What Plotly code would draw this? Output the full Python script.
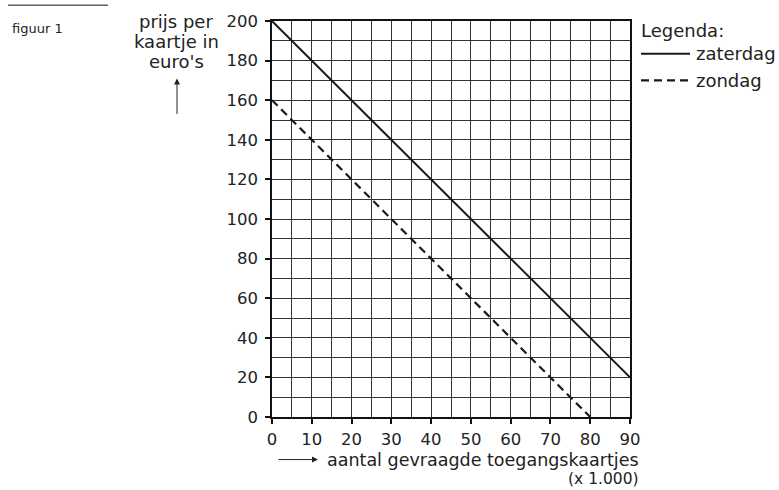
import plotly.graph_objects as go

# Data
x_zaterdag = [0, 90]
y_zaterdag = [200, 20]
x_zondag = [0, 80]
y_zondag = [160, 0]
x_ticks = [0, 10, 20, 30, 40, 50, 60, 70, 80, 90]
y_ticks = [0, 20, 40, 60, 80, 100, 120, 140, 160, 180, 200]

W, H = 779, 490
L, R, T, B = 272, 630, 17, 417
FONT = "DejaVu Sans"
TXT = "#222222"


def px(xp):
    return (xp - L) / (R - L)


def py(yp):
    return (B - yp) / (B - T)


fig = go.Figure()
fig.add_trace(go.Scatter(x=x_zaterdag, y=y_zaterdag, mode="lines", name="zaterdag",
                         line=dict(color="#1a1a1a", width=2), showlegend=False))
fig.add_trace(go.Scatter(x=x_zondag, y=y_zondag, mode="lines", name="zondag",
                         line=dict(color="#1a1a1a", width=2.2, dash="8px,5px"), showlegend=False))

axis_common = dict(showline=True, linecolor="#111", linewidth=1.5, mirror=True,
                   ticks="outside", ticklen=5, tickwidth=1.5, tickcolor="#111",
                   showgrid=True, gridcolor="#333333", gridwidth=1, zeroline=False,
                   tickfont=dict(family=FONT, size=16.5, color=TXT))

fig.update_xaxes(range=[0, 90], tickvals=x_ticks, ticklabelstandoff=1,
                 minor=dict(dtick=5, tick0=0, showgrid=True, gridcolor="#333333", gridwidth=1),
                 **axis_common)
fig.update_yaxes(range=[0, 200], tickvals=y_ticks, ticklabelstandoff=4,
                 minor=dict(dtick=10, tick0=0, showgrid=True, gridcolor="#333333", gridwidth=1),
                 **axis_common)

ann = []
ann.append(dict(text="figuur 1", x=px(10), y=py(25), xanchor="left", yanchor="middle",
                font=dict(family=FONT, size=13, color=TXT)))
for t, yy in [("prijs per", 18), ("kaartje in", 38), ("euro's", 58)]:
    ann.append(dict(text=t, x=px(176), y=py(yy), xanchor="center", yanchor="middle",
                    font=dict(family=FONT, size=18, color=TXT)))
ann.append(dict(text="", x=px(177), y=py(75), ax=0, ay=37, showarrow=True,
                arrowhead=2, arrowsize=1.2, arrowwidth=1, arrowcolor=TXT, standoff=0))
ann.append(dict(text="", x=px(318), y=py(460), ax=-41, ay=0, showarrow=True,
                arrowhead=2, arrowsize=1.2, arrowwidth=1, arrowcolor=TXT, standoff=0))
ann.append(dict(text="aantal gevraagde toegangskaartjes", x=px(641), y=py(460),
                xanchor="right", yanchor="middle", font=dict(family=FONT, size=17.5, color=TXT)))
ann.append(dict(text="(x 1.000)", x=px(641), y=py(480), xanchor="right", yanchor="middle",
                font=dict(family=FONT, size=15.5, color=TXT)))
ann.append(dict(text="Legenda:", x=px(639), y=py(27), xanchor="left", yanchor="middle",
                font=dict(family=FONT, size=18, color=TXT)))
ann.append(dict(text="zaterdag", x=px(694), y=py(50), xanchor="left", yanchor="middle",
                font=dict(family=FONT, size=18, color=TXT)))
ann.append(dict(text="zondag", x=px(694), y=py(77), xanchor="left", yanchor="middle",
                font=dict(family=FONT, size=18, color=TXT)))
for a in ann:
    a.setdefault("showarrow", False)
    a["xref"] = "paper"
    a["yref"] = "paper"

shapes = [
    dict(type="line", xref="paper", yref="paper", x0=px(8), x1=px(108), y0=py(1), y1=py(1),
         line=dict(color="#111", width=1)),
    dict(type="line", xref="paper", yref="paper", x0=px(641), x1=px(690), y0=py(50), y1=py(50),
         line=dict(color="#1a1a1a", width=2)),
    dict(type="line", xref="paper", yref="paper", x0=px(641), x1=px(690), y0=py(77), y1=py(77),
         line=dict(color="#1a1a1a", width=2.2, dash="8px,5px")),
]

fig.update_layout(width=W, height=H, margin=dict(l=L, r=W - R, t=T, b=H - B),
                  plot_bgcolor="white", paper_bgcolor="white",
                  annotations=ann, shapes=shapes, showlegend=False)

fig.write_html("out.html", config={"displayModeBar": False},
               post_script="document.body.style.margin='0';document.body.style.overflow='hidden';")
